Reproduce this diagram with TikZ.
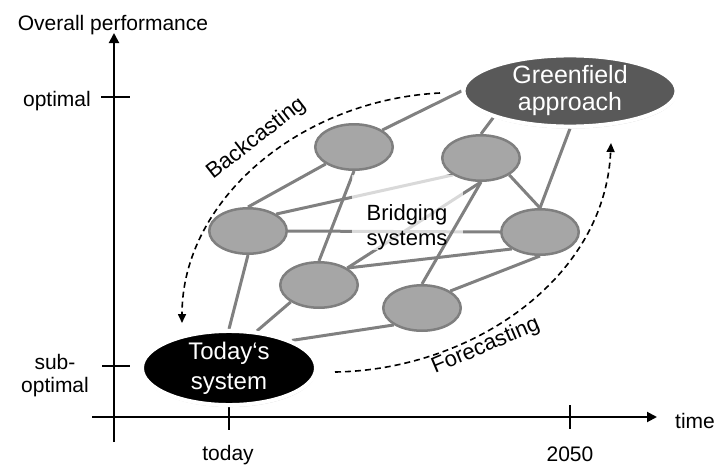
\documentclass[tikz,border=0pt]{standalone}
\usepackage{fontspec}
\setmainfont{Liberation Sans}
\usetikzlibrary{arrows.meta,shapes.geometric,shadows,backgrounds}
\definecolor{edgegray}{HTML}{808080}
\definecolor{nodefill}{HTML}{A6A6A6}
\definecolor{nodeline}{HTML}{7F7F7F}
\definecolor{greenfill}{HTML}{595959}
\begin{document}
\begin{tikzpicture}[x=1pt,y=-1pt,
  axis/.style={line width=2pt,-{Triangle[length=10pt,width=10pt]}},
  tickmark/.style={line width=2.5pt},
  bnode/.style={ellipse,draw=nodeline,fill=nodefill,line width=2.5pt,minimum width=77.5pt,minimum height=45.5pt,inner sep=0pt},
  edge/.style={draw=edgegray,line width=3pt},
  bignode/.style={ellipse,draw=white,line width=4pt,inner sep=0pt,text=white,align=center,
    drop shadow={shadow xshift=0.5pt,shadow yshift=-2pt,opacity=0.35}},
  lbl/.style={inner sep=0pt,font=\fontsize{21}{23}\selectfont},
  slant/.style={inner sep=0pt,font=\fontsize{22}{25}\selectfont},
  dasharrow/.style={line width=1.6pt,dash pattern=on 6pt off 4pt,-{Triangle[length=9pt,width=8pt]}}
]
\useasboundingbox (0,0) rectangle (718,466);

% axes
\coordinate (yb) at (114,442);
\coordinate (yt) at (114,33);
\coordinate (xl) at (92,417);
\coordinate (xr) at (657,417);
\draw[axis] (yb) -- (yt);
\draw[axis] (xl) -- (xr);
\coordinate (t1a) at (101,97);  \coordinate (t1b) at (130,97);
\coordinate (t2a) at (102,366); \coordinate (t2b) at (130,366);
\coordinate (t3a) at (229,406); \coordinate (t3b) at (229,430);
\coordinate (t4a) at (570,405); \coordinate (t4b) at (570,429);
\draw[tickmark] (t1a) -- (t1b);
\draw[tickmark] (t2a) -- (t2b);
\draw[tickmark] (t3a) -- (t3b);
\draw[tickmark] (t4a) -- (t4b);

\node[lbl,anchor=base] (ylab) at (113,30) {Overall performance};
\node[lbl,anchor=base east] (opt) at (91,106) {optimal};
\node[lbl,align=center] (subopt) at (55,376) {sub-\\optimal};
\node[lbl,anchor=base west] (time) at (675,428) {time};
\node[lbl,anchor=base] (today) at (228,460) {today};
\node[lbl,anchor=base] (y2050) at (570,461) {2050};

% big nodes
\node[bignode,fill=greenfill,minimum width=213pt,minimum height=71pt,font=\fontsize{25}{27}\selectfont] (G) at (570,91) {Greenfield\\approach};
\node[bignode,fill=black,minimum width=174pt,minimum height=66pt,font=\fontsize{24}{30}\selectfont] (T) at (229,368) {Today‘s\\system};

% bridging nodes
\node[bnode] (N1) at (354,147) {};
\node[bnode] (N2) at (481,158) {};
\node[bnode] (N3) at (248,231) {};
\node[bnode] (N4) at (540,232) {};
\node[bnode] (N5) at (319,285) {};
\node[bnode] (N6) at (422,308) {};

\node[font=\fontsize{22}{25}\selectfont,align=center,inner sep=0pt] (B) at (407,227) {Bridging\\systems};

\begin{scope}[on background layer]
  \draw[edge] (G.west) -- (N1.north east);
  \draw[edge] (G.south west) -- (N2.north);
  \draw[edge] (G.south) -- (N4.north);
  \draw[edge] (N1.south west) -- (N3.north);
  \draw[edge] (N1.south) -- (N5.north);
  \draw[edge] (N3.north east) -- (N2.south west);
  \draw[edge] (N2.south east) -- (N4.north);
  \draw[edge] (N5.north east) -- (N2.south);
  \draw[edge] (N3.east) -- (N4.west);
  \draw[edge] (N3.south) -- (T.north);
  \draw[edge] (N5.north east) -- (N4.south west);
  \draw[edge] (N6.north east) -- (N4.south);
  \draw[edge] (N6.south west) -- (T.north east);
  \draw[edge] (N5.south west) -- (T.53);
  \fill[white,opacity=0.7] (352,175) rectangle (463,250);
  \draw[edge] (N2.south) -- (N6.north);
\end{scope}

% dashed arrows
\coordinate (bs) at (440,93);
\coordinate (be) at (182,323);
\coordinate (fs) at (335,372);
\coordinate (fe) at (611,143);
\draw[dasharrow] (bs) .. controls (300,100) and (182,200) .. (be);
\draw[dasharrow] (fs) .. controls (470,370) and (605,280) .. (fe);
\node[slant,rotate=38,anchor=base west] (bc) at (213,180) {Backcasting};
\node[slant,rotate=23,anchor=base west] (fc) at (435,374) {Forecasting};
\end{tikzpicture}
\end{document}
